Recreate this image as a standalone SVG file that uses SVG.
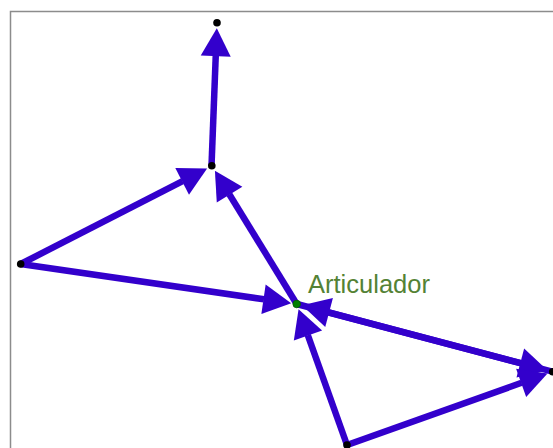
<svg xmlns="http://www.w3.org/2000/svg" width="553" height="448" viewBox="0 0 553 448">
<style>
.v{stroke:#3300cc;stroke-width:6.5;fill:none;marker-end:url(#h)}
.pt{fill:#000}
.lbl{font-family:"Liberation Sans",Arial,sans-serif;font-size:25px;fill:#548235}
</style>
<defs>
<marker id="h" markerUnits="userSpaceOnUse" markerWidth="28" markerHeight="30" viewBox="0 0 28 30" refX="0.5" refY="15" orient="auto" overflow="visible">
<path d="M0,0 L28,15 L0,30 z" fill="#3300cc"/>
</marker>
</defs>
<rect x="10.5" y="11.5" width="620" height="520" fill="#fff" stroke="#8c8c8c" stroke-width="1.5"/>
<g id="connectors">
<line class="v" x1="211.5" y1="166" x2="215.75" y2="55.7"/>
<line class="v" x1="20.7" y1="264" x2="182.6" y2="181.1"/>
<line class="v" x1="296.7" y1="304" x2="229.3" y2="194.2"/>
<line class="v" x1="20.7" y1="264" x2="264" y2="299.3"/>
<line class="v" x1="552.7" y1="371.7" x2="328.6" y2="312.4"/>
<line class="v" x1="296.7" y1="304" x2="520.8" y2="363.2"/>
<line class="v" x1="347" y1="445" x2="307.8" y2="335.1"/>
<line class="v" x1="347" y1="445" x2="521.6" y2="382.8"/>
</g>
<g id="nodeA"><circle class="pt" cx="217" cy="22.7" r="3.8"/></g>
<g id="nodeB"><circle class="pt" cx="211.8" cy="165.8" r="3.8"/></g>
<g id="nodeC"><circle class="pt" cx="20.7" cy="264" r="3.8"/></g>
<g id="nodeE"><circle class="pt" cx="552.7" cy="371.7" r="3.8"/></g>
<g id="nodeF"><circle class="pt" cx="347" cy="445" r="3.8"/></g>
<g id="nodeD">
<circle cx="296.7" cy="304" r="3.8" fill="#008000" stroke="#005a00" stroke-width="0.8"/>
<text class="lbl" x="308" y="293" textLength="122" lengthAdjust="spacingAndGlyphs">Articulador</text>
</g>
</svg>
